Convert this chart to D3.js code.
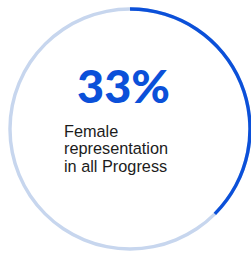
<!doctype html>
<html lang="en">

<head>
    <meta charset="utf-8">
    <title>Female representation</title>
    <style>
        body {
            margin: 0px;
            background: #ffffff;
        }

        .big-number {
            font-family: Lato, "DejaVu Sans", sans-serif;
            font-weight: 900;
            fill: #0b50d9;
        }

        .caption {
            font-family: "Liberation Sans", Arial, sans-serif;
            fill: #1c1c1c;
        }
    </style>
</head>

<body>
</body>
<script src="https://d3js.org/d3.v7.min.js"></script>
<script>
    // values
    const shareLabel = ['33%'];
    const arcShare = [0.375];
    const captionLines = ['Female', 'representation', 'in all Progress'];

    const width = 251;
    const height = 253;

    const centerX = 130;
    const centerY = 129;
    const radius = 120;
    const ringWidth = 3.4;

    const svg = d3.select('body').append('svg')
        .attr('width', width)
        .attr('height', height);

    const ring = svg.append('g')
        .attr('transform', `translate(${centerX},${centerY})`);

    const arc = d3.arc()
        .innerRadius(radius - ringWidth / 2)
        .outerRadius(radius + ringWidth / 2);

    const angle = d3.scaleLinear().domain([0, 1]).range([0, 2 * Math.PI]);

    // full light track
    ring.append('path')
        .attr('d', arc({ startAngle: angle(0), endAngle: angle(1) }))
        .attr('fill', '#c7d6ee');

    // filled part
    ring.selectAll('path.share')
        .data(arcShare)
        .enter()
        .append('path')
        .attr('class', 'share')
        .attr('d', d => arc({ startAngle: angle(0), endAngle: angle(d) }))
        .attr('fill', '#0b50d9');

    // big number
    svg.selectAll('text.big-number')
        .data(shareLabel)
        .enter()
        .append('text')
        .attr('class', 'big-number')
        .attr('x', 77)
        .attr('y', 102.5)
        .attr('font-size', 46)
        .attr('textLength', 93)
        .attr('lengthAdjust', 'spacingAndGlyphs')
        .text(d => d);

    // caption
    svg.selectAll('text.caption')
        .data(captionLines)
        .enter()
        .append('text')
        .attr('class', 'caption')
        .attr('x', 64)
        .attr('y', (d, i) => 136.7 + i * 17.5)
        .attr('font-size', 16.3)
        .text(d => d);
</script>

</html>
